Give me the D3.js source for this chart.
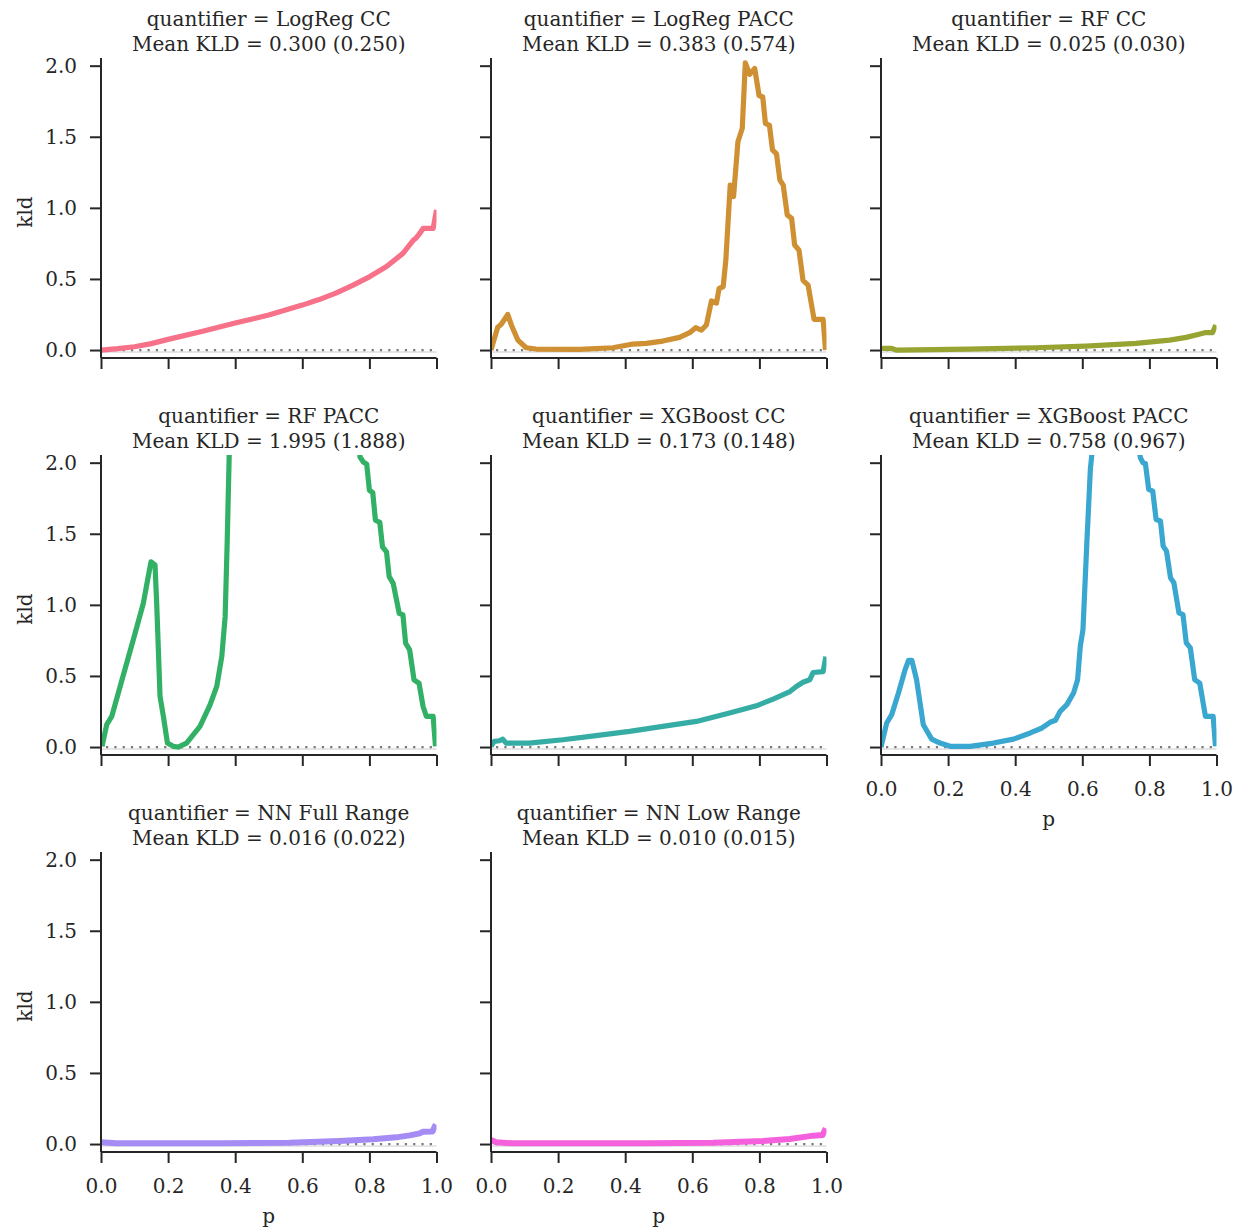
<!DOCTYPE html>
<html>
<head>
<meta charset="utf-8">
<script src="https://cdn.jsdelivr.net/npm/d3@7"></script>
<style>
  body { margin: 0; background: #fff; }
  svg text { font-family: "DejaVu Serif", serif; fill: #262626; }
</style>
</head>
<body>
<div id="chart"></div>
<script>
//-- facet labels
const quantifiers = ["LogReg CC", "LogReg PACC", "RF CC", "RF PACC",
  "XGBoost CC", "XGBoost PACC", "NN Full Range", "NN Low Range"];
const meanKld = [0.300, 0.383, 0.025, 1.995, 0.173, 0.758, 0.016, 0.010];
const sdKld = [0.250, 0.574, 0.030, 1.888, 0.148, 0.967, 0.022, 0.015];
const colors = ["#f77189", "#ce9032", "#97a431", "#32b166",
  "#36ada4", "#39a7d0", "#a48cf4", "#f561dd"];
const xTicks = [0, 0.2, 0.4, 0.6, 0.8, 1.0];
const yTicks = [0, 0.5, 1.0, 1.5, 2.0];

//-- curves (p, kld)
const pLogRegCC = [0, 0.05, 0.1, 0.15, 0.2, 0.3, 0.4, 0.5, 0.6, 0.65, 0.7, 0.75, 0.8, 0.85, 0.9, 0.93, 0.94, 0.95, 0.96, 0.99, 1.0];
const kldLogRegCC = [0, 0.01, 0.023, 0.045, 0.075, 0.13, 0.19, 0.246, 0.316, 0.355, 0.40, 0.455, 0.515, 0.586, 0.68, 0.77, 0.79, 0.82, 0.855, 0.855, 0.985];

const pLogRegPACC = [0, 0.02, 0.03, 0.05, 0.06, 0.08, 0.105, 0.134, 0.264, 0.363, 0.423, 0.463, 0.512, 0.562,
  0.592, 0.61, 0.627, 0.642, 0.657, 0.672, 0.68, 0.692, 0.70, 0.713, 0.723, 0.736, 0.749, 0.758, 0.771,
  0.786, 0.799, 0.81, 0.818, 0.83, 0.839, 0.851, 0.861, 0.871, 0.883, 0.896, 0.905, 0.918, 0.93, 0.945,
  0.963, 0.99, 0.997];
const kldLogRegPACC = [0, 0.16, 0.18, 0.25, 0.18, 0.07, 0.016, 0.007, 0.005, 0.016, 0.042, 0.047, 0.063, 0.089,
  0.122, 0.157, 0.14, 0.176, 0.345, 0.33, 0.434, 0.445, 0.633, 1.16, 1.08, 1.465, 1.56, 2.02, 1.94,
  1.98, 1.79, 1.78, 1.594, 1.58, 1.407, 1.38, 1.196, 1.16, 0.95, 0.926, 0.739, 0.703, 0.49, 0.457,
  0.216, 0.216, 0.0];

const pRFCC = [0, 0.03, 0.045, 0.26, 0.46, 0.61, 0.76, 0.86, 0.91, 0.945, 0.965, 0.988, 0.998];
const kldRFCC = [0.012, 0.012, 0, 0.007, 0.016, 0.028, 0.047, 0.07, 0.089, 0.11, 0.122, 0.122, 0.176];

const pRFPACC = [0.003, 0.017, 0.032, 0.057, 0.096, 0.126, 0.149, 0.161, 0.166, 0.176, 0.186, 0.198, 0.215,
  0.23, 0.255, 0.295, 0.325, 0.345, 0.36, 0.37, 0.376, 0.382, 0.40, 0.45, 0.52, 0.58, 0.65, 0.72, 0.76,
  0.772, 0.782, 0.792, 0.80, 0.81, 0.818, 0.831, 0.839, 0.851, 0.859, 0.871, 0.889, 0.90, 0.908, 0.92,
  0.933, 0.948, 0.96, 0.97, 0.99, 0.997];
const kldRFPACC = [0.005, 0.157, 0.215, 0.426, 0.753, 1.01, 1.303, 1.28, 1.01, 0.356, 0.215, 0.028, 0.005,
  0, 0.028, 0.145, 0.297, 0.426, 0.636, 0.917, 1.43, 2.04, 3.5, 5.0, 5.8, 5.6, 4.8, 3.4, 2.3,
  2.04, 2.005, 1.99, 1.806, 1.79, 1.595, 1.58, 1.408, 1.373, 1.198, 1.151, 0.94, 0.929, 0.73, 0.683,
  0.472, 0.449, 0.285, 0.215, 0.215, 0.005];

const pXGBCC = [0, 0.01, 0.025, 0.035, 0.045, 0.114, 0.214, 0.313, 0.413, 0.512, 0.612, 0.711, 0.791,
  0.841, 0.891, 0.91, 0.93, 0.95, 0.96, 0.99, 0.998];
const kldXGBCC = [0.005, 0.04, 0.044, 0.056, 0.028, 0.028, 0.051, 0.08, 0.11, 0.145, 0.18, 0.239, 0.29,
  0.337, 0.39, 0.426, 0.456, 0.473, 0.524, 0.531, 0.636];

const pXGBPACC = [0, 0.017, 0.032, 0.052, 0.072, 0.082, 0.092, 0.106, 0.126, 0.151, 0.176, 0.206, 0.266,
  0.335, 0.395, 0.445, 0.48, 0.504, 0.52, 0.534, 0.554, 0.574, 0.586, 0.594, 0.602, 0.614, 0.624, 0.629,
  0.65, 0.68, 0.71, 0.74, 0.773, 0.781, 0.788, 0.798, 0.81, 0.82, 0.833, 0.841, 0.851, 0.863, 0.873,
  0.888, 0.90, 0.91, 0.922, 0.935, 0.95, 0.967, 0.99, 0.997];
const kldXGBPACC = [0, 0.169, 0.228, 0.38, 0.545, 0.61, 0.61, 0.474, 0.157, 0.056, 0.028, 0.005, 0.005,
  0.028, 0.056, 0.099, 0.134, 0.174, 0.188, 0.251, 0.298, 0.38, 0.474, 0.709, 0.826, 1.46, 1.953, 2.07,
  2.8, 3.4, 3.3, 2.6, 2.035, 2.0, 1.995, 1.812, 1.8, 1.6, 1.59, 1.413, 1.378, 1.19, 1.155,
  0.944, 0.932, 0.732, 0.697, 0.474, 0.45, 0.216, 0.216, 0.005];

const pNNFull = [0, 0.045, 0.363, 0.562, 0.711, 0.811, 0.88, 0.92, 0.95, 0.96, 0.988, 0.998];
const kldNNFull = [0.012, 0.005, 0.005, 0.009, 0.021, 0.033, 0.047, 0.061, 0.075, 0.087, 0.089, 0.138];

const pNNLow = [0, 0.015, 0.065, 0.463, 0.662, 0.811, 0.89, 0.94, 0.96, 0.988, 0.998];
const kldNNLow = [0.028, 0.012, 0.005, 0.005, 0.009, 0.021, 0.035, 0.052, 0.059, 0.063, 0.11];

const pSeries = [pLogRegCC, pLogRegPACC, pRFCC, pRFPACC, pXGBCC, pXGBPACC, pNNFull, pNNLow];
const kldSeries = [kldLogRegCC, kldLogRegPACC, kldRFCC, kldRFPACC, kldXGBCC, kldXGBPACC, kldNNFull, kldNNLow];

//-- dimensions
const width = 1240, height = 1230;
const panelW = 335.5, panelH = 300;
const colLeft = [101, 491, 881];
const rowTop = [58, 455, 852];
const nCols = 3;
const fontSize = 20;

const svg = d3.select("#chart").append("svg")
  .attr("width", width).attr("height", height);

const x = d3.scaleLinear().domain([0, 1]).range([0, panelW]);
const y = d3.scaleLinear().domain([-0.056, 2.054]).range([panelH, 0]);

const line = d3.line().x((d) => x(d[0])).y((d) => y(d[1]));

quantifiers.forEach((q, i) => {
  const col = i % nCols, row = Math.floor(i / nCols);
  const g = svg.append("g").attr("transform", `translate(${colLeft[col]},${rowTop[row]})`);
  const isBottom = i + nCols >= quantifiers.length;

  //-- clip
  svg.append("clipPath").attr("id", "clip" + i)
    .append("rect").attr("width", panelW).attr("height", panelH);

  //-- reference line at zero
  g.append("line")
    .attr("x1", x(0)).attr("x2", x(1))
    .attr("y1", y(-0.014)).attr("y2", y(-0.014))
    .attr("stroke", "#e6e6e6").attr("stroke-width", 2);
  g.append("line")
    .attr("x1", x(0.015)).attr("x2", x(0.99))
    .attr("y1", y(0)).attr("y2", y(0))
    .attr("stroke", "#7a7a7a").attr("stroke-width", 2.2)
    .attr("stroke-dasharray", "2.2,6.1");

  //-- curve
  const pts = pSeries[i].map((p, k) => [p, kldSeries[i][k]]);
  g.append("path")
    .datum(pts)
    .attr("clip-path", `url(#clip${i})`)
    .attr("d", line)
    .attr("fill", "none")
    .attr("stroke", colors[i])
    .attr("stroke-width", i >= 6 ? 6 : 5.2)
    .attr("stroke-linejoin", "round");

  //-- axes
  const yAxis = d3.axisLeft(y).tickValues(yTicks).tickSize(11).tickPadding(13)
    .tickFormat(col === 0 ? d3.format(".1f") : () => "");
  const gy = g.append("g").call(yAxis);
  const xAxis = d3.axisBottom(x).tickValues(xTicks).tickSize(11).tickPadding(16)
    .tickFormat(isBottom ? d3.format(".1f") : () => "");
  const gx = g.append("g").attr("transform", `translate(0,${panelH})`).call(xAxis);
  [gx, gy].forEach((a) => {
    a.select(".domain").attr("stroke", "#262626").attr("stroke-width", 2)
      .attr("d", a === gx ? `M0,0H${panelW}` : `M0,0V${panelH}`);
    a.selectAll(".tick line").attr("stroke", "#262626").attr("stroke-width", 2);
    a.selectAll(".tick text").attr("font-size", fontSize)
      .attr("font-family", "DejaVu Serif").attr("fill", "#262626");
  });

  //-- titles
  g.append("text").attr("x", panelW / 2).attr("y", -32)
    .attr("text-anchor", "middle").attr("font-size", fontSize)
    .text(`quantifier = ${q}`);
  g.append("text").attr("x", panelW / 2).attr("y", -7)
    .attr("text-anchor", "middle").attr("font-size", fontSize)
    .text(`Mean KLD = ${meanKld[i].toFixed(3)} (${sdKld[i].toFixed(3)})`);

  if (col === 0) {
    g.append("text")
      .attr("transform", `translate(${-69},${panelH / 2 + 4}) rotate(-90)`)
      .attr("text-anchor", "middle").attr("font-size", fontSize)
      .text("kld");
  }
  if (isBottom) {
    g.append("text").attr("x", panelW / 2).attr("y", panelH + 71)
      .attr("text-anchor", "middle").attr("font-size", fontSize)
      .text("p");
  }
});
</script>
</body>
</html>
